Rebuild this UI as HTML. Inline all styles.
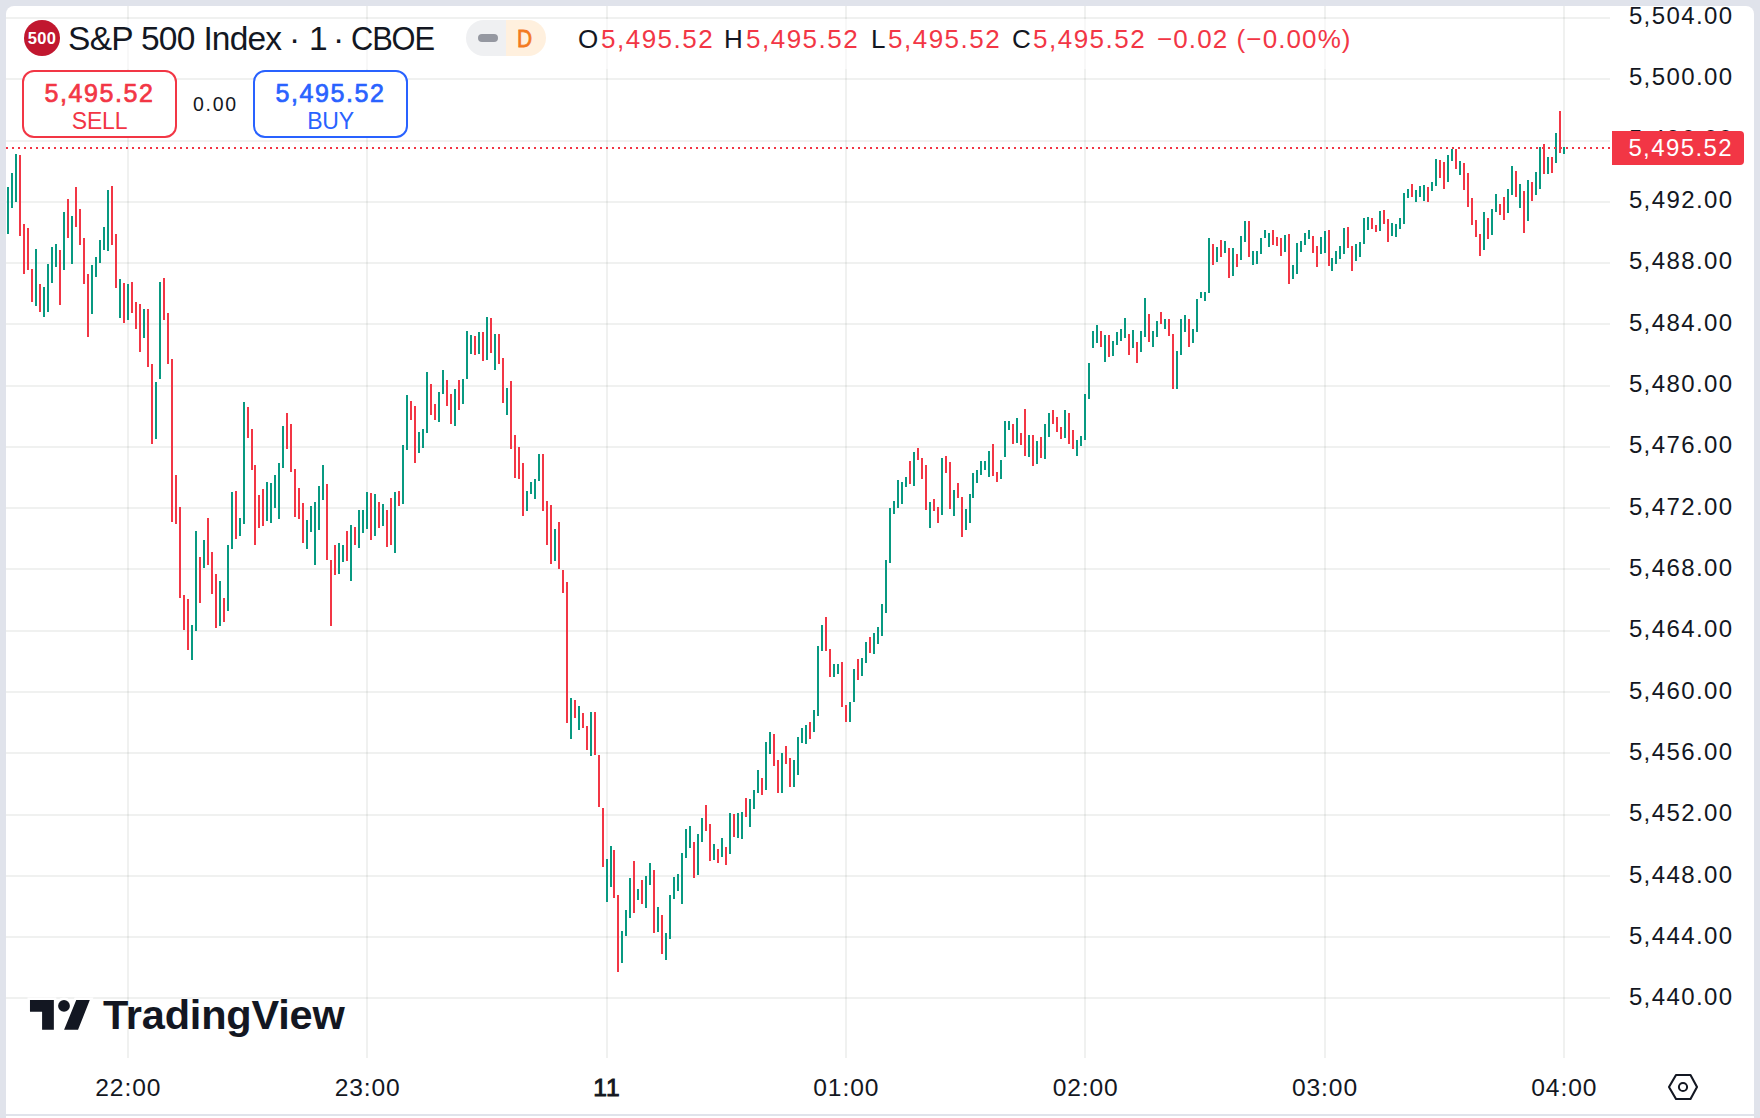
<!DOCTYPE html>
<html><head><meta charset="utf-8">
<style>
html,body{margin:0;padding:0;}
body{width:1760px;height:1118px;background:#e0e3eb;position:relative;overflow:hidden;font-family:"Liberation Sans",sans-serif;color:#131722;}
#card{position:absolute;left:6px;top:6px;width:1748px;height:1108px;background:#fff;border-radius:8px 8px 0 0;}
#bot{position:absolute;left:6px;top:1116px;width:1748px;height:2px;background:#fff;}
svg{position:absolute;left:0;top:0;}
.pl{position:absolute;left:1612px;width:121.5px;text-align:right;font-size:24px;line-height:30px;letter-spacing:1.4px;}
.tl{position:absolute;top:1072.5px;width:120px;text-align:center;font-size:24.6px;line-height:30px;letter-spacing:0.9px;}
.tl.b{-webkit-text-stroke:0.9px #131722;}
#title{position:absolute;left:68px;top:20px;font-size:33.5px;line-height:38px;white-space:nowrap;}
#title span{position:absolute;top:0;}
#legbg{position:absolute;left:20px;top:19px;width:1340px;height:50px;background:rgba(255,255,255,0.5);}
#icon{position:absolute;left:24px;top:20px;width:36px;height:36px;border-radius:50%;background:#c1172f;color:#fff;font-weight:bold;font-size:16.5px;line-height:36px;text-align:center;letter-spacing:0.3px;}
#pill{position:absolute;left:466px;top:20px;width:80px;height:36px;border-radius:18px;overflow:hidden;}
#pill .l{position:absolute;left:0;top:0;width:40px;height:36px;background:#eff0f2;}
#pill .l i{position:absolute;left:12px;top:14px;width:20px;height:8px;border-radius:4px;background:#9598a1;}
#pill .r{position:absolute;left:40px;top:0;width:40px;height:36px;background:#fff0de;color:#f37a1f;font-size:24.3px;line-height:36px;text-align:center;-webkit-text-stroke:0.8px #f37a1f;}
#pill .r b{display:inline-block;font-weight:normal;transform:translate(-1.2px,0.7px) scaleX(0.86);}
#ohlc{position:absolute;left:578px;top:22.5px;font-size:26px;line-height:32px;white-space:nowrap;letter-spacing:1.5px;}
#ohlc span{position:absolute;top:0;}
.rd{color:#f23645;}
.box{position:absolute;top:70px;width:151px;height:64px;border:2px solid;border-radius:12px;text-align:center;background:#fff;}
.box .v{position:absolute;left:0;right:0;top:5.5px;font-size:25px;line-height:30px;letter-spacing:1.6px;-webkit-text-stroke:0.7px currentColor;}
.box .t{position:absolute;left:0;right:0;top:34.5px;font-size:23px;line-height:28px;letter-spacing:-0.2px;}
#sell{left:22px;border-color:#f23645;color:#f23645;}
#buy{left:253px;border-color:#2962ff;color:#2962ff;}
#spread{position:absolute;left:193px;top:90.5px;font-size:19.5px;line-height:26px;letter-spacing:1.7px;}
#plabel{position:absolute;left:1612px;top:131px;width:132px;height:34px;background:#f23645;border-radius:0 4px 4px 0;color:#fff;font-size:24px;line-height:34px;text-align:right;}
#plabel span{position:absolute;right:11px;top:0;letter-spacing:1.4px;}
#logotext{position:absolute;left:103px;top:990px;font-size:41.5px;font-weight:bold;line-height:50px;letter-spacing:-0.2px;color:#131722;text-shadow:0 0 3px #fff,0 0 3px #fff;}
</style></head><body>
<div id="card"></div>
<div id="bot"></div>
<svg width="1760" height="1118" viewBox="0 0 1760 1118">
<path d="M6 18H1610M6 79H1610M6 141H1610M6 202H1610M6 263H1610M6 324H1610M6 386H1610M6 447H1610M6 508H1610M6 569H1610M6 631H1610M6 692H1610M6 753H1610M6 815H1610M6 876H1610M6 937H1610M6 998H1610" stroke="rgba(40,52,48,0.07)" stroke-width="2" fill="none"/>
<path d="M128 6V1058M367 6V1058M607 6V1058M846 6V1058M1085 6V1058M1325 6V1058M1564 6V1058" stroke="rgba(40,52,48,0.07)" stroke-width="2" fill="none"/>
<path d="M8 187V234M12 173V208M16 154V202M36 249V306M44 287V317M48 264V312M52 247V283M56 244V267M64 212V270M72 216V264M92 265V314M96 257V277M100 240V263M104 227V250M108 190V251M120 279V318M128 284V320M144 309V338M156 382V439M160 282V379M192 625V660M196 531V631M204 540V568M220 581V626M228 545V611M232 492V549M240 518V536M244 402V524M267 482V521M271 483V523M275 475V508M279 463V519M283 426V468M307 520V549M311 506V532M315 502V565M319 486V530M323 465V500M339 543V574M343 545V562M351 525V581M359 510V548M363 510V533M367 492V529M375 494V536M383 504V526M395 492V553M403 445V504M407 395V450M419 432V453M423 429V448M427 372V433M439 392V422M443 370V394M455 389V426M463 379V404M467 331V379M471 335V354M479 332V354M487 317V360M495 334V370M507 388V415M527 491V511M531 482V494M535 479V499M539 454V481M555 529V561M571 698V739M579 706V730M591 712V756M607 859V902M611 846V887M622 931V963M626 910V936M630 878V918M638 889V900M646 876V908M650 863V885M658 907V932M666 933V960M670 895V939M674 877V899M678 874V891M682 853V904M686 829V858M690 826V848M698 834V875M702 818V842M714 844V860M722 838V857M730 813V854M738 813V838M742 812V839M750 799V827M754 790V809M758 770V793M766 742V790M770 732V754M782 753V793M794 760V787M798 737V775M802 728V743M806 725V744M814 710V732M818 646V716M822 625V651M834 664V677M838 664V674M850 702V722M854 669V702M862 658V676M866 642V663M874 633V654M878 627V644M882 604V636M886 560V613M890 508V563M894 501V514M898 480V508M902 482V504M906 477V487M914 452V486M930 502V528M942 458V515M954 490V516M966 509V530M970 494V523M973 473V498M977 470V483M981 461V475M985 461V470M989 451V477M1001 460V479M1005 421V457M1009 421V430M1017 418V443M1029 435V457M1037 441V464M1045 424V459M1049 413V437M1065 410V438M1077 440V456M1081 436V446M1085 394V440M1089 363V399M1093 331V348M1097 325V343M1105 335V362M1113 341V356M1117 332V345M1121 329V341M1125 318V338M1133 330V348M1141 331V352M1145 298V337M1153 331V347M1157 321V337M1165 319V329M1177 351V389M1181 319V355M1185 315V332M1193 329V343M1197 299V332M1201 292V298M1205 292V301M1209 238V293M1217 247V262M1225 241V253M1233 248V276M1241 236V260M1245 221V242M1253 251V265M1257 251V264M1261 238V254M1265 230V238M1269 233V247M1285 235V252M1293 265V279M1297 243V274M1301 241V252M1305 233V245M1309 230V239M1321 237V254M1325 231V253M1332 258V271M1336 251V264M1340 246V259M1344 228V254M1356 244V261M1360 242V257M1364 218V244M1368 217V230M1380 211V231M1392 223V236M1396 224V237M1400 218V229M1404 193V224M1408 189V198M1416 190V202M1420 186V197M1424 185V201M1432 182V191M1436 159V186M1448 155V182M1452 149V161M1460 161V175M1484 212V250M1492 209V235M1496 194V212M1508 189V213M1512 166V195M1520 184V208M1528 180V221M1536 172V195M1540 147V189M1548 157V174M1556 133V163M1564 147V154" stroke="#089981" stroke-width="2" fill="none"/>
<path d="M20 155V236M24 224V274M28 228V270M32 269V302M40 284V312M60 250V305M68 199V238M76 187V227M80 209V245M84 238V284M88 274V337M112 186V245M116 234V288M124 283V323M132 282V313M136 302V329M140 304V352M148 309V367M152 364V444M164 278V320M168 313V364M172 359V522M176 475V524M180 507V598M184 595V630M188 599V650M200 557V603M208 518V565M212 552V594M216 574V628M224 598V622M236 491V539M248 407V438M252 429V470M255 465V545M259 495V528M263 489V526M287 413V449M291 424V472M295 469V517M299 488V519M303 503V543M327 484V560M331 560V626M335 545V575M347 531V561M355 527V545M371 493V540M379 502V528M387 510V547M391 498V545M399 491V506M411 401V420M415 406V463M431 384V415M435 404V420M447 380V406M451 394V424M459 380V410M475 336V355M483 332V361M491 318V353M499 334V364M503 358V403M511 381V449M515 435V478M519 447V479M523 463V516M543 454V511M547 501V545M551 505V564M559 522V569M563 570V593M567 582V723M575 700V718M583 713V728M587 726V750M595 712V755M599 755V807M603 808V867M614 850V898M618 895V972M634 861V913M642 880V904M654 870V933M662 915V954M694 842V878M706 805V831M710 824V861M718 849V863M726 847V865M734 814V837M746 798V817M762 778V795M774 734V766M778 760V793M786 746V764M790 758V787M810 722V739M826 617V651M830 649V677M842 662V707M846 705V722M858 659V680M870 637V653M910 461V484M918 448V460M922 458V479M926 465V510M934 499V511M938 507V523M946 456V473M950 462V509M958 483V498M962 497V537M993 444V476M997 472V482M1013 424V444M1021 433V445M1025 409V456M1033 435V466M1041 437V458M1053 410V424M1057 417V432M1061 427V439M1069 413V444M1073 430V449M1101 331V347M1109 335V357M1129 334V355M1137 342V363M1149 314V342M1161 312V324M1169 319V336M1173 334V389M1189 319V347M1213 244V265M1221 240V257M1229 248V278M1237 254V267M1249 221V257M1273 230V245M1277 237V246M1281 238V256M1289 234V284M1313 236V253M1317 246V267M1329 230V266M1348 227V248M1352 246V271M1372 218V229M1376 225V232M1384 210V224M1388 219V242M1412 184V197M1428 187V202M1440 160V178M1444 162V189M1456 149V169M1464 163V190M1468 173V207M1472 198V225M1476 220V237M1480 234V256M1488 218V239M1500 204V215M1504 197V220M1516 171V197M1524 191V233M1532 182V201M1544 144V174M1552 157V173M1560 111V153" stroke="#f23645" stroke-width="2" fill="none"/>
<path d="M6 148H1610" stroke="#f23645" stroke-width="2" stroke-dasharray="2 4" fill="none"/>
<path d="M29.97 1000.1H53.85V1029.8H42.09V1011.7H29.97Z M76.25 1000.1H89.8L78.04 1029.8H64.08Z" fill="#fff" stroke="#fff" stroke-width="5"/>
<circle cx="63.98" cy="1005.95" r="5.88" fill="#fff" stroke="#fff" stroke-width="5"/>
<path d="M29.97 1000.1H53.85V1029.8H42.09V1011.7H29.97Z M76.25 1000.1H89.8L78.04 1029.8H64.08Z" fill="#131722"/>
<circle cx="63.98" cy="1005.95" r="5.88" fill="#131722"/>
<path d="M1669 1087L1676 1075H1690.5L1697 1087L1690.5 1099H1676Z" stroke="#131722" stroke-width="2.1" fill="none" stroke-linejoin="round"/>
<circle cx="1683" cy="1087" r="4.1" stroke="#131722" stroke-width="2" fill="none"/>
</svg>
<div id="legbg"></div>
<div id="icon">500</div>
<div id="title"><span style="left:0;letter-spacing:-0.7px">S&amp;P 500</span><span style="left:135.4px;letter-spacing:-0.85px">Index</span><span style="left:221px">·</span><span style="left:241px">1</span><span style="left:265px">·</span><span style="left:283.3px;letter-spacing:-1.2px;transform:scaleX(0.92);transform-origin:0 0">CBOE</span></div>
<div id="pill"><div class="l"><i></i></div><div class="r"><b>D</b></div></div>
<div id="ohlc"><span style="left:0">O</span><span class="rd" style="left:23px">5,495.52</span><span style="left:146px">H</span><span class="rd" style="left:168px">5,495.52</span><span style="left:293px">L</span><span class="rd" style="left:310px">5,495.52</span><span style="left:434px">C</span><span class="rd" style="left:455px">5,495.52</span><span class="rd" style="left:579px;letter-spacing:1.1px">−0.02 (−0.00%)</span></div>
<div class="box" id="sell"><div class="v">5,495.52</div><div class="t">SELL</div></div>
<div id="spread">0.00</div>
<div class="box" id="buy"><div class="v">5,495.52</div><div class="t">BUY</div></div>
<div class="pl" style="top:1.1px">5,504.00</div><div class="pl" style="top:62.4px">5,500.00</div><div class="pl" style="top:123.8px">5,496.00</div><div class="pl" style="top:185.1px">5,492.00</div><div class="pl" style="top:246.4px">5,488.00</div><div class="pl" style="top:307.8px">5,484.00</div><div class="pl" style="top:369.1px">5,480.00</div><div class="pl" style="top:430.4px">5,476.00</div><div class="pl" style="top:491.7px">5,472.00</div><div class="pl" style="top:553.1px">5,468.00</div><div class="pl" style="top:614.4px">5,464.00</div><div class="pl" style="top:675.7px">5,460.00</div><div class="pl" style="top:737.1px">5,456.00</div><div class="pl" style="top:798.4px">5,452.00</div><div class="pl" style="top:859.7px">5,448.00</div><div class="pl" style="top:921.0px">5,444.00</div><div class="pl" style="top:982.4px">5,440.00</div>
<div id="plabel"><span>5,495.52</span></div>
<div class="tl" style="left:68.3px">22:00</div><div class="tl" style="left:307.7px">23:00</div><div class="tl b" style="left:547.0px">11</div><div class="tl" style="left:786.3px">01:00</div><div class="tl" style="left:1025.7px">02:00</div><div class="tl" style="left:1265.0px">03:00</div><div class="tl" style="left:1504.3px">04:00</div>
<div id="logotext">TradingView</div>
</body></html>
